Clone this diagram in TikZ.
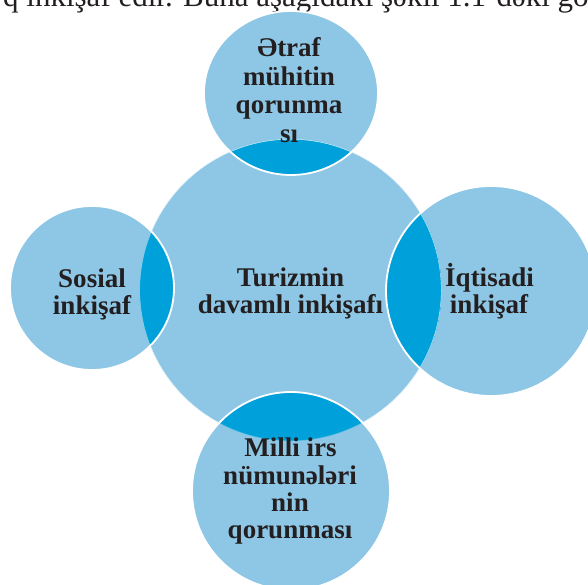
\documentclass[tikz,border=0pt]{standalone}
\usepackage{fontspec}
\setmainfont{Liberation Serif}
\definecolor{lightb}{RGB}{142,199,229}
\definecolor{darkb}{RGB}{0,161,218}
\definecolor{ink}{RGB}{35,31,32}
\tikzset{
  lbl/.style={font=\bfseries\fontsize{27}{27}\selectfont, text=ink, anchor=base, inner sep=0pt},
  hdrtext/.style={font=\fontsize{31}{31}\selectfont, text=ink, anchor=base west, inner sep=0pt},
  rim/.style={draw=white, line width=1.8pt},
  faint/.style={draw=white, draw opacity=.35, line width=0.8pt},
}
\def\pC{(290.5,290) circle (151)}
\def\pT{(291,93) ellipse [x radius=87, y radius=82]}
\def\pR{(491,291) circle (105)}
\def\pL{(92,288) circle (82)}
\def\pB{(291,491) circle (99)}
\begin{document}
\begin{tikzpicture}[x=1pt,y=-1pt]
\useasboundingbox (0,0) rectangle (588,585);
\begin{scope}
\clip (0,0) rectangle (588,585);
\node[hdrtext] (hdr) at (3,7) {q inkişaf edir. Buna aşağıdakı şəkil 1.1-dəki gö};
\fill[lightb] \pC;
\foreach \p in {\pT,\pR,\pL,\pB}{
  \fill[lightb] \p;
  \begin{scope}
    \clip \pC;
    \fill[darkb] \p;
    \draw[faint] \pC;
  \end{scope}
  \draw[rim] \p;
}
\end{scope}
% top
\node[lbl] (t1) at (289,57) {Ətraf};
\node[lbl] (t2) at (289,86) {mühitin};
\node[lbl] (t3) at (289,114) {qorunma};
\node[lbl] (t4) at (289,143) {sı};
% centre
\node[lbl] (c1) at (290.5,286) {Turizmin};
\node[lbl] (c2) at (290.5,313) {davamlı inkişafı};
% left
\node[lbl] (l1) at (92,287) {Sosial};
\node[lbl] (l2) at (92,314) {inkişaf};
% right
\node[lbl] (r1) at (489.5,286) {İqtisadi};
\node[lbl] (r2) at (489,313) {inkişaf};
% bottom
\node[lbl] (b1) at (290.5,456) {Milli irs};
\node[lbl] (b2) at (290,484) {nümunələri};
\node[lbl] (b3) at (290,511) {nin};
\node[lbl] (b4) at (290,538) {qorunması};
\end{tikzpicture}
\end{document}
